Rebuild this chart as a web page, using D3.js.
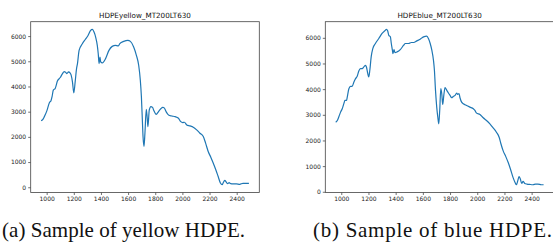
<!DOCTYPE html>
<html>
<head>
<meta charset="utf-8">
<style>
body { margin: 0; background: #fff; }
svg { display: block; }
.tick text { font-family: "DejaVu Sans", sans-serif; font-size: 6px; fill: #222; }
.ptitle { font-family: "DejaVu Sans", sans-serif; font-size: 7.2px; fill: #111; }
.caption { font-family: "Liberation Serif", serif; font-size: 21px; fill: #111; }
</style>
</head>
<body>
<svg id="fig" width="553" height="246"></svg>
<script src="https://cdn.jsdelivr.net/npm/d3@7"></script>
<script>

var xTicks = [1000, 1200, 1400, 1600, 1800, 2000, 2200, 2400];
var yTicks = [0, 1000, 2000, 3000, 4000, 5000, 6000];

var titles = ["HDPEyellow_MT200LT630", "HDPEblue_MT200LT630"];
var captions = ["(a) Sample of yellow HDPE.", "(b) Sample of blue HDPE."];

var yellowWl = [959, 970, 983, 1002, 1020, 1032, 1040, 1049, 1063, 1080, 1100, 1117, 1129, 1140, 1149, 1161, 1172, 1180, 1190, 1200,
  1210, 1220, 1227, 1239, 1263, 1283, 1305, 1324, 1337, 1349, 1361, 1373, 1380, 1386, 1393, 1398, 1410, 1434, 1459, 1483,
  1507, 1527, 1539, 1568, 1598, 1617, 1641, 1661, 1678, 1690, 1698, 1705, 1710, 1717, 1724, 1734, 1741, 1746, 1756, 1768,
  1780, 1788, 1807, 1824, 1841, 1856, 1866, 1880, 1898, 1922, 1946, 1971, 1988, 2002, 2015, 2032, 2056, 2080, 2105, 2129,
  2154, 2171, 2190, 2210, 2227, 2246, 2263, 2280, 2293, 2300, 2312, 2324, 2334, 2344, 2356, 2373, 2398, 2422, 2446, 2471, 2490];
var yellowVal = [2645, 2680, 2803, 3040, 3355, 3434, 3600, 3855, 3920, 4224, 4355, 4513, 4592, 4560, 4513, 4579, 4540, 4460, 4184, 3750,
  4184, 4700, 4908, 5434, 5697, 5855, 6026, 6224, 6263, 6158, 5960, 5630, 5300, 4908, 5170, 4974, 4934, 5105, 5434, 5592,
  5632, 5610, 5697, 5790, 5830, 5790, 5566, 5237, 4842, 4250, 3592, 2671, 2013, 1618, 2145, 3092, 2737, 2408, 3066, 3200,
  3171, 3066, 2895, 3000, 3118, 3171, 3150, 3000, 2868, 2829, 2803, 2737, 2605, 2566, 2580, 2474, 2434, 2382, 2276, 2145,
  2013, 1750, 1421, 1184, 960, 697, 434, 171, 100, 171, 276, 197, 145, 180, 145, 132, 132, 118, 158, 158, 158];

var blueWl = [959, 971, 983, 995, 1007, 1020, 1027, 1039, 1044, 1056, 1068, 1080, 1093, 1105, 1117, 1129, 1141, 1154, 1166, 1178,
  1185, 1195, 1202, 1210, 1220, 1232, 1251, 1276, 1300, 1320, 1332, 1341, 1349, 1361, 1368, 1376, 1380, 1388, 1395, 1410,
  1434, 1459, 1471, 1495, 1515, 1532, 1556, 1580, 1605, 1629, 1641, 1654, 1666, 1678, 1685, 1693, 1702, 1710, 1717, 1724,
  1732, 1739, 1746, 1754, 1763, 1776, 1788, 1800, 1812, 1824, 1837, 1849, 1856, 1866, 1873, 1885, 1898, 1922, 1946, 1971,
  1983, 1995, 2020, 2044, 2068, 2093, 2117, 2141, 2161, 2173, 2190, 2210, 2227, 2244, 2263, 2278, 2288, 2298, 2307, 2317,
  2327, 2337, 2349, 2366, 2385, 2410, 2429, 2446, 2471, 2488];
var blueVal = [2713, 2778, 2935, 3104, 3235, 3456, 3561, 3561, 3691, 4017, 4108, 4108, 4278, 4409, 4500, 4709, 4800, 4800, 4865, 4930,
  4865, 4604, 4474, 4735, 5256, 5582, 5778, 5974, 6169, 6274, 6326, 6274, 6104, 6039, 5778, 5517, 5387, 5543, 5426, 5452,
  5543, 5713, 5778, 5778, 5817, 5817, 5882, 5948, 6039, 6065, 5974, 5778, 5517, 5126, 4735, 3952, 3300, 2909, 2648, 3169,
  4017, 3822, 3404, 3756, 4056, 3952, 3848, 3756, 3665, 3717, 3756, 3848, 3795, 3822, 3665, 3495, 3430, 3365, 3300, 3235,
  3169, 3065, 3013, 2883, 2778, 2648, 2491, 2322, 2126, 1891, 1604, 1370, 1148, 887, 561, 365, 274, 430, 587, 496,
  326, 404, 326, 300, 287, 274, 300, 300, 274, 274];

var svg = d3.select("#fig");

// matplotlib style 5% margins around the data
function padded(vals) {
  var e = d3.extent(vals), m = (e[1] - e[0]) * 0.05;
  return [e[0] - m, e[1] + m];
}

function styleAxis(a) {
  a.select(".domain").remove();
  a.selectAll("line").attr("stroke", "#333").attr("stroke-width", 0.7);
}

function drawPanel(wl, vals, box, title) {
  var x = d3.scaleLinear().domain(padded(wl)).range([box.left, box.right]);
  var y = d3.scaleLinear().domain(padded(vals)).range([box.bottom, box.top]);

  var g = svg.append("g");

  g.append("g")
      .attr("transform", "translate(0," + box.bottom + ")")
      .call(d3.axisBottom(x).tickValues(xTicks).tickFormat(d3.format("d"))
        .tickSize(2.5).tickSizeOuter(0).tickPadding(1.5))
      .call(styleAxis);

  g.append("g")
      .attr("transform", "translate(" + box.left + ",0)")
      .call(d3.axisLeft(y).tickValues(yTicks).tickFormat(d3.format("d"))
        .tickSize(2.5).tickSizeOuter(0).tickPadding(2))
      .call(styleAxis);

  var line = d3.line()
      .x(function(d, i) { return x(wl[i]); })
      .y(function(d) { return y(d); })
      .curve(d3.curveMonotoneX);

  g.append("path")
      .datum(vals)
      .attr("fill", "none")
      .attr("stroke", "#1f77b4")
      .attr("stroke-width", 1.2)
      .attr("d", line);

  g.append("rect")
      .attr("x", box.left)
      .attr("y", box.top)
      .attr("width", box.right - box.left)
      .attr("height", box.bottom - box.top)
      .attr("fill", "none")
      .attr("stroke", "#444")
      .attr("stroke-width", 0.8);

  g.append("text")
      .attr("class", "ptitle")
      .attr("x", (box.left + box.right) / 2)
      .attr("y", box.top - 4)
      .attr("text-anchor", "middle")
      .text(title);
}

drawPanel(yellowWl, yellowVal, {left: 30.7, right: 259.3, top: 21.7, bottom: 192.5}, titles[0]);
drawPanel(blueWl, blueVal, {left: 325.3, right: 554, top: 21.7, bottom: 192.5}, titles[1]);

// captions stretched to the widths measured on the reference
svg.append("text").attr("class", "caption").attr("x", 2).attr("y", 237)
    .attr("textLength", 243).attr("lengthAdjust", "spacing").text(captions[0]);
svg.append("text").attr("class", "caption").attr("x", 313).attr("y", 237)
    .attr("textLength", 239).attr("lengthAdjust", "spacing").text(captions[1]);

</script>
</body>
</html>
